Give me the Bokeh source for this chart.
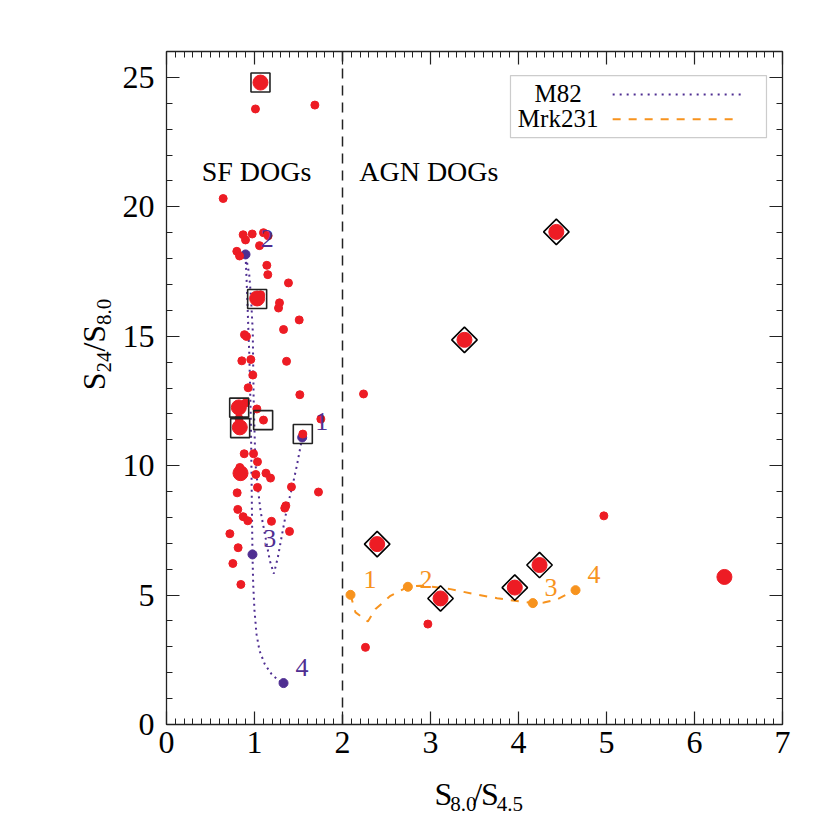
import math
from bokeh.plotting import figure
from bokeh.layouts import row, column
from bokeh.models import (Span, Label, BoxAnnotation, LinearAxis, SingleIntervalTicker,
                          Range1d, CustomJSTickFormatter)
from bokeh.embed import file_html
from bokeh.resources import INLINE

# ---------------- data ----------------
small_x = [1.011, 1.686, 0.644,
           0.871, 0.898, 0.974, 1.102, 1.155, 1.057, 0.799, 0.830,
           1.140, 1.151, 1.386, 1.284, 1.273, 1.508, 1.330, 0.886, 0.909, 0.958, 1.364, 0.856,
           0.981, 0.928, 1.515, 0.898, 1.027, 1.102, 1.754, 1.549, 0.824, 1.070,
           0.883, 0.989, 1.034, 0.833, 1.015, 1.130, 1.182, 1.034, 1.420, 0.803, 1.727,
           1.356, 1.344, 0.810, 0.871, 0.924, 1.193, 1.398, 0.720, 0.814, 0.754, 0.845,
           2.239, 2.970, 2.261, 4.970]
small_y = [23.78, 23.93, 20.32,
           18.92, 18.72, 18.95, 19.00, 18.88, 18.50, 18.28, 18.10,
           17.74, 17.38, 17.06, 16.29, 16.09, 15.63, 15.26, 15.06, 14.99, 14.10, 14.03, 14.05,
           13.50, 13.01, 12.74, 12.42, 12.19, 11.76, 11.80, 11.22, 11.82, 16.60,
           10.46, 10.46, 10.15, 9.93, 9.66, 9.71, 9.52, 9.16, 9.18, 8.95, 8.98,
           8.45, 8.36, 8.31, 8.03, 7.87, 7.85, 7.46, 7.37, 6.83, 6.22, 5.41,
           12.77, 3.88, 2.98, 8.06]

big_x = [1.068, 1.030, 0.822, 0.833, 0.841, 2.394, 3.114, 3.958, 4.239, 3.386, 4.430, 6.340]
big_y = [24.80, 16.46, 12.25, 11.48, 9.71, 6.97, 4.87, 5.29, 6.16, 14.86, 19.03, 5.70]

sq_x = [1.068, 1.030, 0.826, 0.837, 1.098, 1.549]
sq_y = [24.80, 16.44, 12.24, 11.45, 11.76, 11.22]

dia_x = [2.394, 3.114, 3.958, 4.239, 3.386, 4.430]
dia_y = [6.97, 4.87, 5.29, 6.16, 14.86, 19.03]

# M82 redshift track (z = 1..4)
m82_x = [1.542, 0.898, 0.977, 1.330]
m82_y = [11.09, 18.16, 6.57, 1.60]
m82_lab = ["1", "2", "3", "4"]
m82_lab_x = [1.69, 1.07, 1.10, 1.466]
m82_lab_y = [11.35, 18.42, 6.83, 1.88]
m82_cx = [1.542, 1.485, 1.428, 1.371, 1.314, 1.265, 1.220, 1.174, 1.125, 1.068, 1.038,
          1.011, 1.000, 0.990, 0.985, 0.980, 0.960, 0.940, 0.898,
          0.910, 0.920, 0.930, 0.940, 0.950, 0.960, 0.965, 0.970, 0.977,
          0.985, 1.000, 1.023, 1.057, 1.117, 1.193, 1.276, 1.330]
m82_cy = [11.09, 10.06, 9.16, 8.39, 7.36, 6.45, 5.83, 6.33, 7.23, 8.26, 9.16,
          10.06, 11.35, 12.63, 13.93, 15.21, 16.50, 17.40, 18.16,
          17.20, 16.30, 15.30, 14.40, 13.00, 11.50, 10.00, 8.50, 6.57,
          5.43, 4.39, 3.49, 2.85, 2.33, 1.95, 1.69, 1.60]

# Mrk231 redshift track (z = 1..4)
mrk_x = [2.091, 2.743, 4.163, 4.648]
mrk_y = [5.01, 5.32, 4.69, 5.19]
mrk_lab = ["1", "2", "3", "4"]
mrk_lab_x = [2.24, 2.875, 4.295, 4.784]
mrk_lab_y = [5.28, 5.28, 4.97, 5.44]
mrk_cx = [2.091, 2.148, 2.288, 2.375, 2.545, 2.743, 2.886, 3.019, 3.227, 3.492, 3.757,
          4.023, 4.163, 4.288, 4.440, 4.648]
mrk_cy = [5.01, 4.33, 3.98, 4.46, 4.97, 5.32, 5.36, 5.32, 5.23, 5.04, 4.88,
          4.75, 4.69, 4.71, 4.84, 5.19]

legend_labels = ["M82", "Mrk231"]
region_labels = ["SF DOGs", "AGN DOGs"]
x_title = [("S", False), ("8.0", True), ("/", False), ("S", False), ("4.5", True)]
y_title = [("S", False), ("24", True), ("/", False), ("S", False), ("8.0", True)]

RED = "#ED1C24"
PURPLE = "#4F2E92"
ORANGE = "#F7931E"
AX = "#222222"
SERIF = "Liberation Serif"
MID = 0.338   # baseline sits this many em below the middle of the text box

# ---------------- layout geometry (page pixels) ----------------
TOTAL_W, TOTAL_H = 820, 826
LEFT_W = 118            # strip holding the y title
BOTTOM_H = 56           # strip holding the x title
FRAME_L, FRAME_T, FRAME_W, FRAME_H = 166, 51, 616, 673

MAIN_W = TOTAL_W - LEFT_W
MAIN_H = TOTAL_H - BOTTOM_H
PYS = FRAME_H / 26.0    # px per y unit

p = figure(width=MAIN_W, height=MAIN_H, x_range=Range1d(0, 7), y_range=Range1d(0, 26),
           output_backend="svg", toolbar_location=None, title=None,
           x_axis_location=None, y_axis_location=None,
           min_border_left=FRAME_L - LEFT_W, min_border_right=MAIN_W - (FRAME_L - LEFT_W) - FRAME_W,
           min_border_top=FRAME_T, min_border_bottom=MAIN_H - FRAME_T - FRAME_H)
p.grid.visible = False
p.outline_line_color = None


def make_axis(interval, minor, labels, standoff):
    ax = LinearAxis(ticker=SingleIntervalTicker(interval=interval, num_minor_ticks=minor))
    ax.major_tick_in = 13
    ax.major_tick_out = 0
    ax.minor_tick_in = 6
    ax.minor_tick_out = 0
    ax.axis_line_color = AX
    ax.axis_line_width = 1.3
    ax.major_tick_line_color = AX
    ax.major_tick_line_width = 1.2
    ax.minor_tick_line_color = AX
    ax.minor_tick_line_width = 1.0
    ax.major_label_text_font = SERIF
    ax.major_label_text_font_size = "32px"
    ax.major_label_text_color = "black"
    ax.major_label_standoff = standoff
    if not labels:
        ax.formatter = CustomJSTickFormatter(code="return ''")
    return ax


p.add_layout(make_axis(1, 10, True, 7), "below")
p.add_layout(make_axis(1, 10, False, 5), "above")
p.add_layout(make_axis(5, 5, True, 12), "left")
p.add_layout(make_axis(5, 5, False, 5), "right")


def label(fig, x, y_base, text, size, color="black", align="left", ppu=PYS):
    """Label whose alphabetic baseline sits at y_base (data units)."""
    fig.add_layout(Label(x=x, y=y_base + MID * size / ppu, text=text, text_align=align,
                         text_baseline="middle", text_font=SERIF,
                         text_font_size=f"{size}px", text_color=color))


# dividing line SF / AGN
p.add_layout(Span(location=2, dimension="height", line_color=AX, line_width=1.5,
                  line_dash="10 7"))

# legend box (drawn under the glyphs)
p.add_layout(BoxAnnotation(left=3.909, right=6.818, bottom=22.67, top=25.07,
                           fill_color="white", fill_alpha=1.0, line_color="#555555",
                           line_width=1.2, level="underlay"))

# tracks
p.line(m82_cx, m82_cy, line_color=PURPLE, line_width=2, line_dash="2 4")
p.line(mrk_cx, mrk_cy, line_color=ORANGE, line_width=2, line_dash="8 8")
p.scatter(m82_x, m82_y, size=9, fill_color=PURPLE, line_color=PURPLE)
p.scatter(mrk_x, mrk_y, size=9, fill_color=ORANGE, line_color=ORANGE)

# DOGs
p.scatter(small_x, small_y, size=8, fill_color=RED, line_color=RED)
p.scatter(big_x, big_y, size=15, fill_color=RED, line_color=RED)
p.scatter(sq_x, sq_y, marker="square", size=19, fill_color=None, line_color=AX, line_width=1.6)
p.scatter(dia_x, dia_y, marker="square", size=18, angle=math.pi / 4, fill_color=None,
          line_color="black", line_width=1.6)

# legend lines and texts
p.line([5.07, 6.56], [24.34, 24.34], line_color=PURPLE, line_width=2, line_dash="2 5")
p.line([5.07, 6.50], [23.38, 23.38], line_color=ORANGE, line_width=2, line_dash="8 8")
for txt, yy in zip(legend_labels, (24.06, 23.10)):
    label(p, 4.45, yy, txt, 25, align="center")

# track labels
for t, lx, ly in zip(m82_lab, m82_lab_x, m82_lab_y):
    label(p, lx, ly, t, 26, PURPLE)
for t, lx, ly in zip(mrk_lab, mrk_lab_x, mrk_lab_y):
    label(p, lx, ly, t, 26, ORANGE)

# region labels
label(p, 0.40, 21.0, region_labels[0], 28)
label(p, 2.19, 21.0, region_labels[1], 28)


# ---------------- axis titles (with subscripts) in side strips ----------------
def strip(w, h, x0, y0):
    f = figure(width=w, height=h, x_range=Range1d(x0, x0 + w), y_range=Range1d(y0 + h, y0),
               output_backend="svg", toolbar_location=None, title=None,
               x_axis_location=None, y_axis_location=None,
               min_border=0, min_border_left=0, min_border_right=0,
               min_border_top=0, min_border_bottom=0)
    f.grid.visible = False
    f.outline_line_color = None
    return f


CW = {"S": 0.556, "/": 0.278, ".": 0.25}
MAIN, SUB, SUB_DROP = 32, 21, 7


def width(t, size):
    return sum(CW.get(c, 0.5) for c in t) * size


def place_title(fig, parts, start, base, vertical):
    pos = start
    for t, sub in parts:
        size = SUB if sub else MAIN
        off = SUB_DROP if sub else 0
        if vertical:
            # text runs upward; its "down" direction is +x on the page
            fig.add_layout(Label(x=base + off - MID * size, y=pos, text=t, angle=math.pi / 2,
                                 text_font=SERIF, text_font_size=f"{size}px", text_color="black",
                                 text_baseline="middle", text_align="left"))
            pos -= width(t, size)
        else:
            # strip y range is page px, growing downward
            fig.add_layout(Label(x=pos, y=base + off - MID * size, text=t,
                                 text_font=SERIF, text_font_size=f"{size}px", text_color="black",
                                 text_baseline="middle", text_align="left"))
            pos += width(t, size)


yfig = strip(LEFT_W, TOTAL_H, 0, 0)
xfig = strip(MAIN_W, BOTTOM_H, LEFT_W, MAIN_H)

xw = sum(width(t, SUB if s else MAIN) for t, s in x_title)
yw = sum(width(t, SUB if s else MAIN) for t, s in y_title)
place_title(xfig, x_title, 472 - xw / 2, 804, False)
place_title(yfig, y_title, 344 + yw / 2, 104, True)

layout = row(yfig, column(p, xfig, spacing=0), spacing=0)
open("out.html", "w").write(file_html(layout, INLINE))
